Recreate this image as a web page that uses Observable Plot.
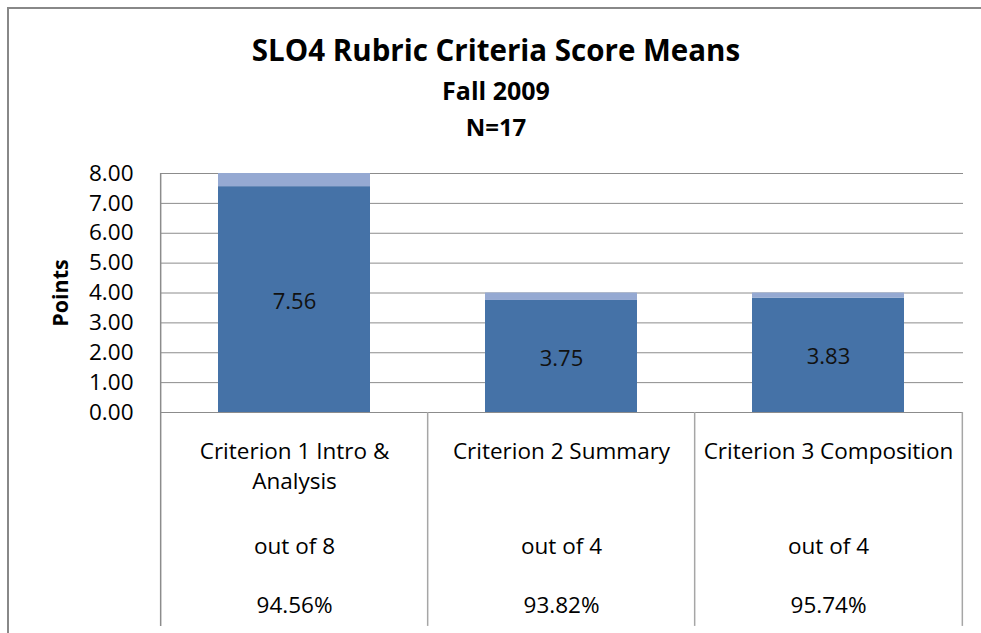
<!DOCTYPE html>
<html><head><meta charset="utf-8">
<script src="https://cdn.jsdelivr.net/npm/d3@7"></script>
<script src="https://cdn.jsdelivr.net/npm/@observablehq/plot@0.6"></script>
<style>
body{margin:0;background:#fff;font-family:"Open Sans",Lato,sans-serif;}
#wrap{position:relative;width:981px;height:633px;overflow:hidden;background:#fff;}
.frame-top{position:absolute;left:7px;top:7px;width:974px;height:2px;background:#888;}
.frame-left{position:absolute;left:7px;top:7px;width:2px;height:626px;background:#888;}
#head{position:absolute;left:0;top:0;width:981px;height:150px;}
#head div{position:absolute;left:7px;width:978px;text-align:center;font-weight:bold;color:#000;white-space:nowrap;}
#chart{position:absolute;left:0;top:150px;}
</style></head>
<body>
<div id="wrap">
  <div class="frame-top"></div>
  <div class="frame-left"></div>
  <div id="head">
    <div id="t1" style="top:30px;font-size:29.5px;line-height:40px;"></div>
    <div id="t2" style="top:74px;font-size:25px;line-height:32px;"></div>
    <div id="t3" style="top:111px;font-size:24px;line-height:32px;"></div>
  </div>
  <div id="chart"></div>
</div>
<script>
const titleLines = ["SLO4 Rubric Criteria Score Means", "Fall 2009", "N=17"];
const criteria = ["Criterion 1 Intro & Analysis", "Criterion 2 Summary", "Criterion 3 Composition"];
const criteriaLabels = ["Criterion 1 Intro &\nAnalysis", "Criterion 2 Summary", "Criterion 3 Composition"];
const means = [7.56, 3.75, 3.83];
const maxPoints = [8, 4, 4];
const outOfLabels = ["out of 8", "out of 4", "out of 4"];
const percentLabels = ["94.56%", "93.82%", "95.74%"];
const yTicks = [0, 1, 2, 3, 4, 5, 6, 7, 8];
const yLabel = "Points";

document.getElementById("t1").textContent = titleLines[0];
document.getElementById("t2").textContent = titleLines[1];
document.getElementById("t3").textContent = titleLines[2];

const rows = criteria.map((c, i) => ({
  criterion: c, label: criteriaLabels[i], mean: means[i], max: maxPoints[i],
  outOf: outOfLabels[i], pct: percentLabels[i]
}));

const W = 981, H = 483, mL = 160, mR = 18, mT = 23, mB = 221;
const step = (W - mL - mR) / criteria.length;
const tableBottom = -7.16;
const gridColor = "#8c8c8c";
const tableLine = "#a6a6a6";
const font = "'Open Sans', Lato, sans-serif";

const chart = Plot.plot({
  width: W, height: H,
  marginLeft: mL, marginRight: mR, marginTop: mT, marginBottom: mB,
  style: {fontFamily: font, fontSize: "21px", color: "#000", background: "transparent"},
  x: {domain: criteria, paddingInner: 0.43, paddingOuter: 0.215, axis: null},
  y: {domain: [0, 8], axis: null},
  marks: [
    Plot.gridY(yTicks, {stroke: gridColor, strokeOpacity: 1, strokeWidth: 1}),
    Plot.barY(rows, {x: "criterion", y1: 0, y2: "mean", fill: "#4572A7"}),
    Plot.barY(rows, {x: "criterion", y1: "mean", y2: "max", fill: "#95A9D2"}),
    Plot.text(rows, {x: "criterion", y: d => d.mean / 2, text: d => d3.format(".2f")(d.mean), dy: 2, fontSize: 22, fill: "#111"}),
    Plot.axisY({ticks: yTicks, tickFormat: ".2f", tickSize: 0, tickPadding: 27, fontSize: 22.5, fill: "#000", label: null}),
    Plot.ruleX([criteria[0]], {x: d => d, dx: -step / 2, y1: 8, y2: tableBottom, stroke: gridColor, strokeWidth: 1.5}),
    Plot.ruleX(criteria.slice(1), {x: d => d, dx: -step / 2, y1: 0, y2: tableBottom, stroke: tableLine, strokeWidth: 1.5}),
    Plot.ruleX([criteria[criteria.length - 1]], {x: d => d, dx: step / 2, y1: 0, y2: tableBottom, stroke: tableLine, strokeWidth: 1.5}),
    Plot.text(rows, {x: "criterion", y: 0, text: "label", dy: 25, lineAnchor: "top", lineHeight: 1.34, fontSize: 22.5, fill: "#000"}),
    Plot.text(rows, {x: "criterion", y: 0, text: "outOf", dy: 134, fontSize: 22.5, fill: "#000"}),
    Plot.text(rows, {x: "criterion", y: 0, text: "pct", dy: 193, fontSize: 22.5, fill: "#000"}),
    Plot.text([yLabel], {text: d => d, frameAnchor: "left", textAnchor: "middle", dx: -99, dy: 0, rotate: -90, fontSize: 21.5, fontWeight: "bold", fill: "#000"})
  ]
});
document.getElementById("chart").appendChild(chart);
</script>
</body></html>
